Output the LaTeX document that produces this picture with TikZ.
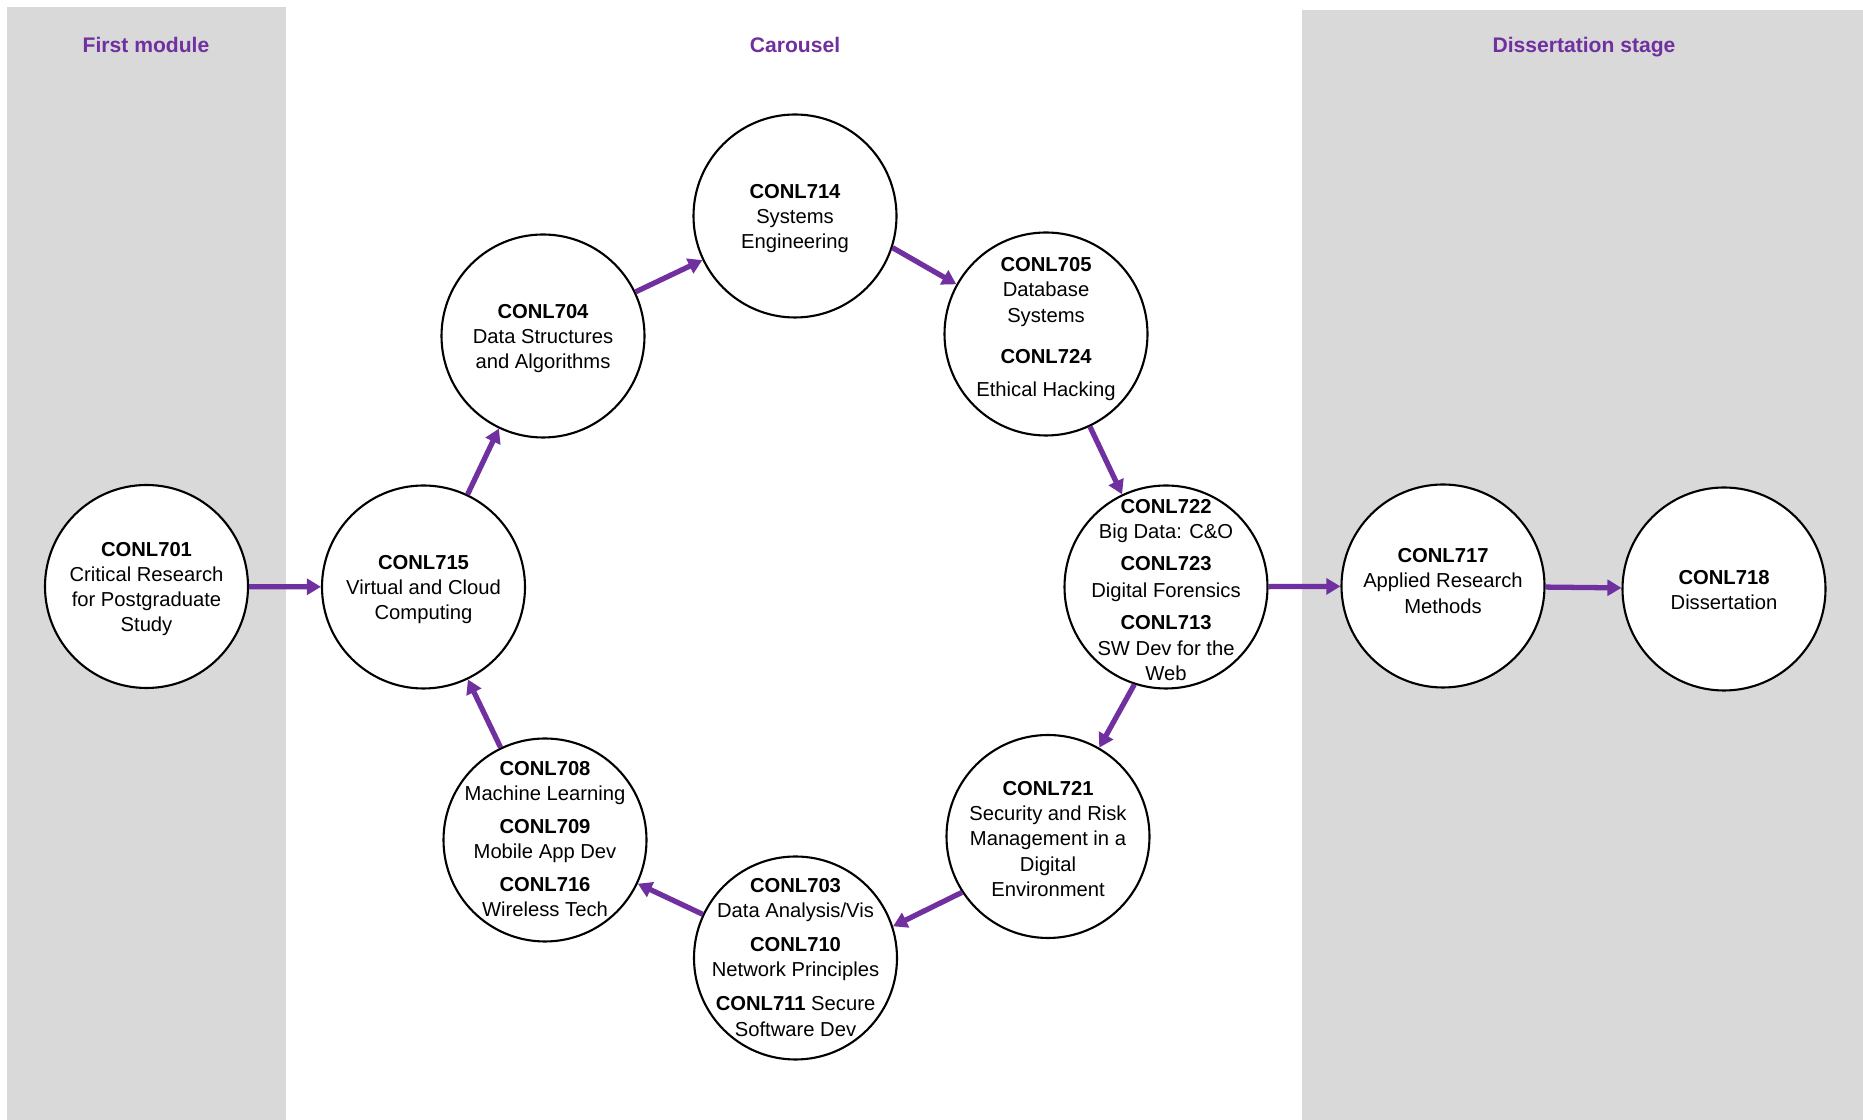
\documentclass[tikz,border=0pt]{standalone}
\usepackage{fontspec}
\setmainfont{Liberation Sans}
\usetikzlibrary{arrows.meta}
\definecolor{plum}{HTML}{7030A0}
\definecolor{panel}{HTML}{D9D9D9}
\newcommand{\cc}        [1]{\textbf{#1}}
\newcommand{\md}        {\fontsize{11.5}{14.3}\selectfont}

\tikzset{
  modc/.style={circle,draw=black,line width=1.2pt,fill=white,minimum size=4.06cm,inner sep=0pt},
  modt/.style={align=center,font=\md,yshift=-0.05cm},
  head/.style={anchor=base,text=plum,font=\fontsize{12}{14}\selectfont\bfseries},
  flow/.style={draw=plum,line width=3pt,-{Triangle[length=8pt,width=9pt,fill=plum]}}
}

\begin{document}
\begin{tikzpicture}
   \useasboundingbox (0,0) rectangle (37.26,22.4);
   \begin{scope}
    \fill[panel] (0.14,0) rectangle (5.71,22.26);
    \draw (2.92,21.35) node[head] (h1) {First module};
    \draw (2.93,10.67) node[modc] (c701) {};
    \node[modt] (t701) at (c701) {\cc{CONL701}\\Critical Research\\for Postgraduate\\Study};
   \end{scope}
   \begin{scope}
    \draw (15.9,21.35) node[head] (h2) {Carousel};
    \draw (8.47,10.66) node[modc] (c715) {};
    \draw (10.86,15.68) node[modc] (c704) {};
    \draw (15.9,18.08) node[modc] (c714) {};
    \draw (20.92,15.72) node[modc] (c705) {};
    \draw (23.32,10.66) node[modc] (c722) {};
    \draw (20.96,5.67) node[modc] (c721) {};
    \draw (15.91,3.24) node[modc] (c703) {};
    \draw (10.9,5.6) node[modc] (c708) {};
    \node[modt] (t715) at (c715) {\cc{CONL715}\\Virtual and Cloud\\Computing};
    \node[modt] (t704) at (c704) {\cc{CONL704}\\Data Structures\\and Algorithms};
    \node[modt] (t714) at (c714) {\cc{CONL714}\\Systems\\Engineering};
    \node[modt,yshift=0.15cm] (t705) at (c705) {\cc{CONL705}\\Database\\Systems\\[9pt]\cc{CONL724}\\[4.5pt]Ethical Hacking};
    \node[modt,yshift=-0.01cm] (t722) at (c722) {\cc{CONL722}\\Big Data: C\&O\\[3.5pt]\cc{CONL723}\\[1.5pt]Digital Forensics\\[4pt]\cc{CONL713}\\SW Dev for the\\Web};
    \node[modt] (t721) at (c721) {\cc{CONL721}\\Security and Risk\\Management in a\\Digital\\Environment};
    \node[modt,yshift=0.06cm] (t703) at (c703) {\cc{CONL703}\\Data Analysis/Vis\\[4.5pt]\cc{CONL710}\\Network Principles\\[5.5pt]\cc{CONL711} Secure\\Software Dev};
    \node[modt,yshift=0.07cm] (t708) at (c708) {\cc{CONL708}\\Machine Learning\\[4.5pt]\cc{CONL709}\\Mobile App Dev\\[4.5pt]\cc{CONL716}\\Wireless Tech};
   \end{scope}
   \begin{scope}
    \fill[panel] (26.04,0) rectangle (37.26,22.2);
    \draw (31.68,21.35) node[head] (h3) {Dissertation stage};
    \draw (28.86,10.68) node[modc] (c717) {};
    \draw (34.48,10.62) node[modc] (c718) {};
    \node[modt,yshift=0.15cm] (t717) at (c717) {\cc{CONL717}\\Applied Research\\Methods};
    \node[modt,yshift=0.03cm] (t718) at (c718) {\cc{CONL718}\\Dissertation};
   \end{scope}
   \draw[flow] (c701) -- (c715);
   \draw[flow] (c715) -- (c704);
   \draw[flow] (c704) -- (c714);
   \draw[flow] (c714.-18) -- (c705.151);
   \draw[flow] (c705) -- (c722);
   \draw[flow] (c722.252) -- (c721.60);
   \draw[flow] (c721.213) -- (c703.18);
   \draw[flow] (c703) -- (c708);
   \draw[flow] (c708) -- (c715);
   \draw[flow] (c722) -- (c717);
   \draw[flow] (c717) -- (c718);
  \end{tikzpicture}
\end{document}
